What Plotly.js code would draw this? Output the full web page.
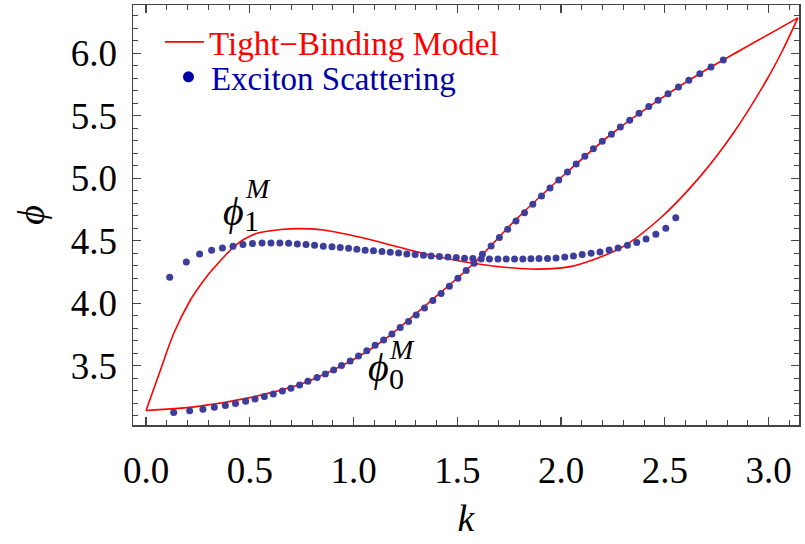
<!DOCTYPE html>
<html>
<head>
<meta charset="utf-8">
<script src="https://cdn.plot.ly/plotly-3.0.1.min.js"></script>
<style>html,body{margin:0;padding:0;background:#fff;}#chart{width:805px;height:544px;}</style>
</head>
<body>
<div id="chart"></div>
<script>
// Tight-binding model, branch phi_0^M (lower branch)
const kTB0   = [0, 0.25, 0.5, 0.75, 1.0, 1.15, 1.37, 1.58, 1.78, 2.03, 2.24, 2.47, 2.67, 2.86, 3.1416];
const phiTB0 = [3.142, 3.175, 3.245, 3.355, 3.55, 3.71, 4.015, 4.32, 4.665, 5.05, 5.35, 5.625, 5.838, 6.02, 6.283];
// Tight-binding model, branch phi_1^M (upper branch)
const kTB1   = [0, 0.066, 0.133, 0.213, 0.245, 0.30, 0.342, 0.38, 0.419, 0.47, 0.535, 0.663, 0.727, 0.855, 0.984, 1.129, 1.369, 1.578, 1.851, 2.044, 2.285, 2.478, 2.67, 2.83, 2.991, 3.07, 3.1416];
const phiTB1 = [3.142, 3.45, 3.758, 4.024, 4.106, 4.23, 4.31, 4.38, 4.445, 4.51, 4.56, 4.592, 4.597, 4.586, 4.546, 4.488, 4.386, 4.32, 4.274, 4.293, 4.44, 4.68, 5.013, 5.36, 5.786, 6.03, 6.283];

// Exciton scattering, branch phi_0^M
const kES0 = [0.133,0.210,0.274,0.329,0.382,0.431,0.480,0.525,0.570,0.613,0.657,0.698,0.740,0.780,0.824,0.864,0.904,0.942,0.984,1.024,1.064,1.104,1.145,1.185,1.225,1.265,1.302,1.342,1.382,1.422,1.462,1.503,1.543,1.581,1.621,1.663,1.703,1.743,1.783,1.824,1.864,1.906,1.947,1.989,2.031,2.073,2.115,2.156,2.199,2.243,2.286,2.331,2.376,2.423,2.468,2.516,2.566,2.616,2.669,2.723,2.782];
const phiES0 = [3.125,3.139,3.152,3.168,3.181,3.197,3.216,3.234,3.253,3.274,3.298,3.320,3.346,3.376,3.405,3.434,3.466,3.501,3.538,3.578,3.620,3.663,3.706,3.754,3.805,3.853,3.906,3.962,4.021,4.077,4.136,4.200,4.261,4.320,4.392,4.459,4.526,4.593,4.659,4.725,4.792,4.858,4.922,4.986,5.050,5.114,5.176,5.237,5.296,5.352,5.410,5.464,5.520,5.573,5.624,5.677,5.730,5.784,5.837,5.890,5.946];
// Exciton scattering, branch phi_1^M
const kES1 = [0.114,0.194,0.258,0.316,0.368,0.419,0.467,0.513,0.559,0.602,0.645,0.687,0.729,0.771,0.812,0.854,0.896,0.936,0.976,1.016,1.056,1.096,1.137,1.177,1.217,1.257,1.297,1.337,1.374,1.414,1.455,1.495,1.535,1.575,1.615,1.655,1.696,1.736,1.776,1.816,1.855,1.894,1.935,1.976,2.018,2.060,2.102,2.145,2.188,2.232,2.275,2.320,2.365,2.410,2.457,2.505,2.553];
const phiES1 = [4.208,4.330,4.394,4.424,4.442,4.456,4.469,4.477,4.482,4.482,4.482,4.480,4.474,4.469,4.464,4.456,4.452,4.445,4.440,4.432,4.425,4.420,4.413,4.408,4.402,4.394,4.389,4.384,4.378,4.373,4.370,4.365,4.360,4.357,4.354,4.354,4.354,4.354,4.354,4.354,4.355,4.357,4.357,4.362,4.370,4.378,4.389,4.400,4.410,4.426,4.442,4.464,4.485,4.514,4.552,4.600,4.685];

const xTickVals = [0, 0.5, 1.0, 1.5, 2.0, 2.5, 3.0];
const xTickText = ['0.0','0.5','1.0','1.5','2.0','2.5','3.0'];
const yTickVals = [3.5, 4.0, 4.5, 5.0, 5.5, 6.0];
const yTickText = ['3.5','4.0','4.5','5.0','5.5','6.0'];

const serif = 'Liberation Serif, Times New Roman, serif';
const red = '#ff0000';
const dotCol = '#3d3d9c';
const legBlue = '#0000a8';

const traces = [
  {x: kTB0, y: phiTB0, mode: 'lines', line: {color: red, width: 1.6, shape: 'spline', smoothing: 0.8},
   name: '<span style="color:#ff0000">Tight\u2212Binding Model</span>', legend: 'legend', legendgroup: 'tb', showlegend: true},
  {x: kTB1, y: phiTB1, mode: 'lines', line: {color: red, width: 1.6, shape: 'spline', smoothing: 0.8},
   name: 'tb1', legendgroup: 'tb', showlegend: false},
  {x: kES0, y: phiES0, mode: 'markers', marker: {color: dotCol, size: 7},
   name: 'es0', legendgroup: 'es', showlegend: false},
  {x: kES1, y: phiES1, mode: 'markers', marker: {color: dotCol, size: 7},
   name: 'es1', legendgroup: 'es', showlegend: false},
  {x: [null], y: [null], mode: 'markers', marker: {color: legBlue, size: 11},
   name: '<span style="color:#0000a8">Exciton Scattering</span>', legend: 'legend2', legendgroup: 'es', showlegend: true}
];

const axisCommon = {
  showgrid: false, zeroline: false, showline: true, linecolor: '#444', linewidth: 1.5,
  mirror: 'allticks', ticks: 'inside', ticklen: 8, tickwidth: 1.2, tickcolor: '#444',
  tickfont: {family: serif, size: 37, color: '#000'},
  minor: {ticks: 'inside', ticklen: 5, tickwidth: 1, tickcolor: '#444', dtick: 0.1, showgrid: false}
};

const layout = {
  width: 805, height: 544,
  margin: {l: 133, r: 6, t: 5, b: 119},
  paper_bgcolor: '#fff', plot_bgcolor: '#fff',
  showlegend: true,
  legend: {x: 0.0405, y: 0.912, xanchor: 'left', yanchor: 'middle', bgcolor: 'rgba(0,0,0,0)',
           font: {family: serif, size: 33}, itemwidth: 39},
  legend2: {x: 0.0495, y: 0.829, xanchor: 'left', yanchor: 'middle', bgcolor: 'rgba(0,0,0,0)',
           font: {family: serif, size: 33}, itemwidth: 35},
  xaxis: Object.assign({}, axisCommon, {
    range: [-0.063, 3.147], tickmode: 'array', tickvals: xTickVals, ticktext: xTickText,
    ticklabelstandoff: 12,
    minor: Object.assign({}, axisCommon.minor, {tick0: 0}),
    title: {text: '<i>k</i>', font: {family: serif, size: 38, color: '#000'}, standoff: 14}
  }),
  yaxis: Object.assign({}, axisCommon, {
    range: [3.026, 6.386], tickmode: 'array', tickvals: yTickVals, ticktext: yTickText,
    ticklabelstandoff: 7,
    minor: Object.assign({}, axisCommon.minor, {tick0: 3.0}),
    title: {text: '<i>\u03d5</i>', font: {family: serif, size: 38, color: '#000'}, standoff: 14}
  }),
  annotations: [
    {x: 0.42, y: 4.738, xref: 'x', yref: 'y', text: '<i>\u03d5</i>', showarrow: false, font: {family: serif, size: 40, color: '#000'}},
    {x: 0.54, y: 4.92, xref: 'x', yref: 'y', text: '<i>M</i>', showarrow: false, font: {family: serif, size: 28, color: '#000'}},
    {x: 0.51, y: 4.666, xref: 'x', yref: 'y', text: '1', showarrow: false, font: {family: serif, size: 30, color: '#000'}},
    {x: 1.12, y: 3.49, xref: 'x', yref: 'y', text: '<i>\u03d5</i>', showarrow: false, font: {family: serif, size: 40, color: '#000'}},
    {x: 1.232, y: 3.63, xref: 'x', yref: 'y', text: '<i>M</i>', showarrow: false, font: {family: serif, size: 28, color: '#000'}, borderpad: 0},
    {x: 1.205, y: 3.395, xref: 'x', yref: 'y', text: '0', showarrow: false, font: {family: serif, size: 30, color: '#000'}, borderpad: 0}
  ]
};

Plotly.newPlot('chart', traces, layout, {staticPlot: true, displayModeBar: false});
</script>
</body>
</html>
